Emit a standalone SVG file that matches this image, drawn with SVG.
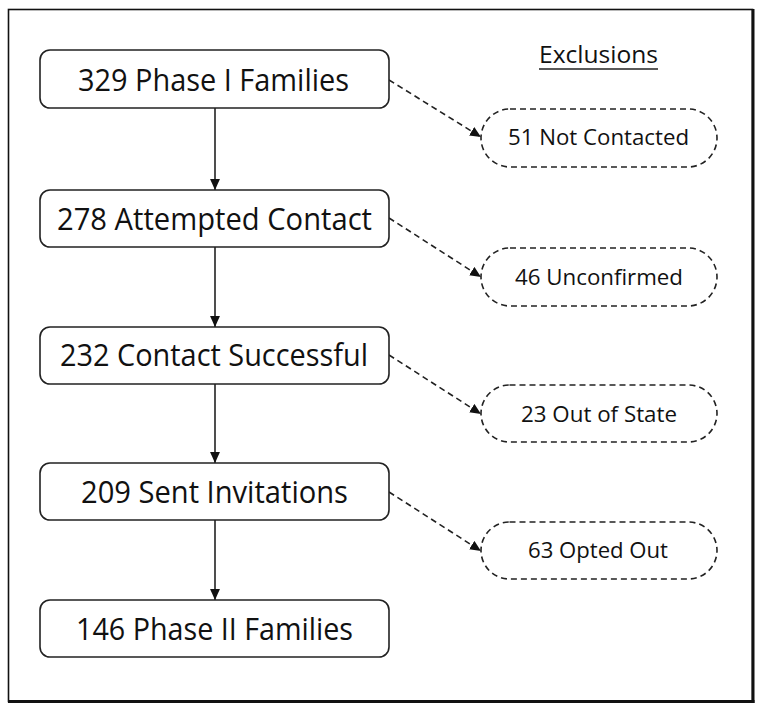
<svg xmlns="http://www.w3.org/2000/svg" width="762" height="712" viewBox="0 0 762 712">
<style>
.box{fill:#fff;stroke:#222;stroke-width:1.6}
.excl{fill:#fff;stroke:#222;stroke-width:1.6;stroke-dasharray:6 4}
.bt{font-family:"Open Sans","Noto Sans",sans-serif;font-size:31px;fill:#111}
.et{font-family:"Open Sans","Noto Sans",sans-serif;font-size:21.5px;fill:#111}
.solid{stroke:#222;stroke-width:1.6;fill:none}
.dash{stroke:#222;stroke-width:1.6;fill:none;stroke-dasharray:6 4}
</style>
<defs>
<marker id="ah" viewBox="0 0 10 10" refX="10" refY="5" markerWidth="11" markerHeight="11" markerUnits="userSpaceOnUse" orient="auto">
<path d="M0,0.5 L10,5 L0,9.5 Z" fill="#111"/>
</marker>
</defs>
<rect width="762" height="712" fill="#fff"/>
<g id="frame">
<rect x="8.5" y="9.5" width="744" height="692" fill="none" stroke="#111" stroke-width="1.6"/>
<line x1="753" y1="9" x2="753" y2="703" stroke="#111" stroke-width="3"/>
<line x1="8" y1="701.5" x2="754.5" y2="701.5" stroke="#111" stroke-width="3"/>
</g>
<g id="title">
<text x="598.5" y="63" text-anchor="middle" class="et" style="font-size:23.5px" textLength="119" lengthAdjust="spacingAndGlyphs">Exclusions</text>
<line x1="539" y1="69" x2="658" y2="69" stroke="#222" stroke-width="1.6"/>
</g>
<g id="connectors">
<line class="solid" x1="215" y1="108" x2="215" y2="190" marker-end="url(#ah)"/>
<line class="solid" x1="215" y1="247" x2="215" y2="327" marker-end="url(#ah)"/>
<line class="solid" x1="215" y1="384" x2="215" y2="463" marker-end="url(#ah)"/>
<line class="solid" x1="215" y1="520" x2="215" y2="600" marker-end="url(#ah)"/>
<line class="dash" x1="389" y1="80" x2="481" y2="137" marker-end="url(#ah)"/>
<line class="dash" x1="389" y1="218" x2="481" y2="277" marker-end="url(#ah)"/>
<line class="dash" x1="389" y1="355" x2="481" y2="414" marker-end="url(#ah)"/>
<line class="dash" x1="389" y1="492" x2="481" y2="551" marker-end="url(#ah)"/>
</g>
<g id="n1"><rect class="box" x="40" y="50" width="349" height="58" rx="10"/><text class="bt" x="78" y="91" textLength="271" lengthAdjust="spacingAndGlyphs">329 Phase I Families</text></g>
<g id="n2"><rect class="box" x="40" y="190" width="349" height="57" rx="10"/><text class="bt" x="57" y="230" textLength="315" lengthAdjust="spacingAndGlyphs">278 Attempted Contact</text></g>
<g id="n3"><rect class="box" x="40" y="327" width="349" height="57" rx="10"/><text class="bt" x="60" y="366" textLength="308" lengthAdjust="spacingAndGlyphs">232 Contact Successful</text></g>
<g id="n4"><rect class="box" x="40" y="463" width="349" height="57" rx="10"/><text class="bt" x="81" y="503" textLength="267" lengthAdjust="spacingAndGlyphs">209 Sent Invitations</text></g>
<g id="n5"><rect class="box" x="40" y="600" width="349" height="57" rx="10"/><text class="bt" x="76" y="640" textLength="277" lengthAdjust="spacingAndGlyphs">146 Phase II Families</text></g>
<g id="e1"><rect class="excl" x="481" y="109" width="236" height="58" rx="29"/><text class="et" x="508" y="145" textLength="181" lengthAdjust="spacingAndGlyphs">51 Not Contacted</text></g>
<g id="e2"><rect class="excl" x="481" y="248" width="236" height="58" rx="29"/><text class="et" x="515" y="285" textLength="168" lengthAdjust="spacingAndGlyphs">46 Unconfirmed</text></g>
<g id="e3"><rect class="excl" x="481" y="385" width="236" height="57" rx="28.5"/><text class="et" x="521" y="422" textLength="156" lengthAdjust="spacingAndGlyphs">23 Out of State</text></g>
<g id="e4"><rect class="excl" x="481" y="522" width="236" height="57" rx="28.5"/><text class="et" x="528" y="558" textLength="140" lengthAdjust="spacingAndGlyphs">63 Opted Out</text></g>
</svg>
